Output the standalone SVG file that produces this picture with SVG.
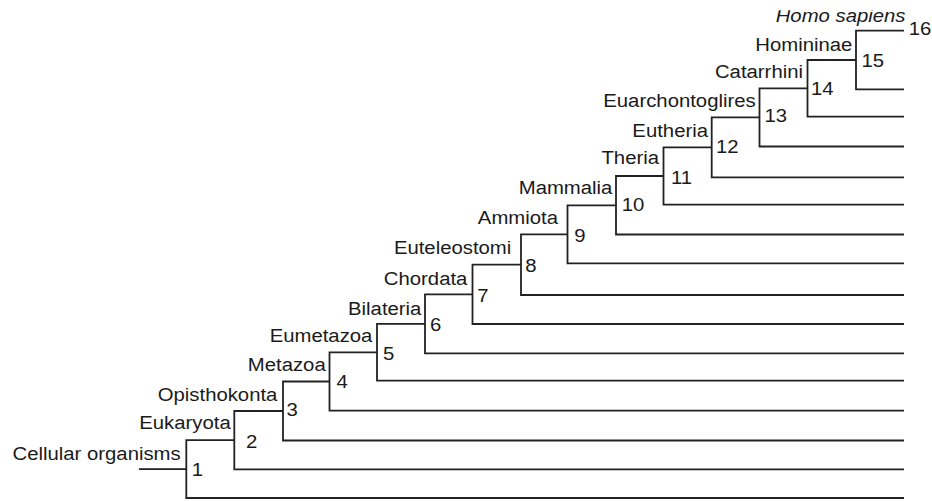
<svg xmlns="http://www.w3.org/2000/svg" width="932" height="501" viewBox="0 0 932 501">
<style>
.br{fill:none;stroke:#222;stroke-width:1.8;stroke-linejoin:miter}
text{font-family:"Liberation Sans",Arial,sans-serif;font-size:19px;fill:#1a1a1a}
.nm{text-anchor:end}
.it{font-style:italic}
</style>
<defs>
<clipPath id="topclip"><rect x="700" y="10.3" width="232" height="40"/></clipPath>
</defs>
<rect width="932" height="501" fill="#fff"/>
<g id="connectors">
<path class="br" d="M139,469.1 H186.3"/>
<path class="br" d="M234.3,440.2 H186.3 V498 H904"/>
<path class="br" d="M283,411 H234.3 V469.3 H904"/>
<path class="br" d="M329.5,381.5 H283 V440.5 H904"/>
<path class="br" d="M377,352.3 H329.5 V410.7 H904"/>
<path class="br" d="M425,323.8 H377 V380.7 H904"/>
<path class="br" d="M472.5,294.3 H425 V353.3 H904"/>
<path class="br" d="M521,264.7 H472.5 V324 H904"/>
<path class="br" d="M567.5,234.3 H521 V295 H904"/>
<path class="br" d="M616,205.3 H567.5 V263.3 H904"/>
<path class="br" d="M663.5,176 H616 V234.5 H904"/>
<path class="br" d="M711.7,147.4 H663.5 V204.7 H904"/>
<path class="br" d="M759.5,117.4 H711.7 V177.3 H904"/>
<path class="br" d="M807.5,88.4 H759.5 V146.5 H904"/>
<path class="br" d="M856,60 H807.5 V116.7 H904"/>
<path class="br" d="M904,30.7 H856 V89.3 H904"/>
</g>
<g id="n1"><text class="nm" transform="translate(180.7,460) scale(1.07 1)">Cellular organisms</text><text transform="translate(191.8,476) scale(1.07 1)">1</text></g>
<g id="n2"><text class="nm" transform="translate(230.7,429.3) scale(1.07 1)">Eukaryota</text><text transform="translate(246,447.7) scale(1.07 1)">2</text></g>
<g id="n3"><text class="nm" transform="translate(277.4,400.5) scale(1.07 1)">Opisthokonta</text><text transform="translate(286.4,416) scale(1.07 1)">3</text></g>
<g id="n4"><text class="nm" transform="translate(325.7,370.7) scale(1.07 1)">Metazoa</text><text transform="translate(336.5,387.7) scale(1.07 1)">4</text></g>
<g id="n5"><text class="nm" transform="translate(372.4,341.7) scale(1.07 1)">Eumetazoa</text><text transform="translate(383,360) scale(1.07 1)">5</text></g>
<g id="n6"><text class="nm" transform="translate(421.4,315) scale(1.07 1)">Bilateria</text><text transform="translate(430,330.7) scale(1.07 1)">6</text></g>
<g id="n7"><text class="nm" transform="translate(467.4,285) scale(1.07 1)">Chordata</text><text transform="translate(477.3,301.7) scale(1.07 1)">7</text></g>
<g id="n8"><text class="nm" transform="translate(511.3,254) scale(1.07 1)">Euteleostomi</text><text transform="translate(525.2,272.3) scale(1.07 1)">8</text></g>
<g id="n9"><text class="nm" transform="translate(558,224) scale(1.07 1)">Ammiota</text><text transform="translate(574.2,241.7) scale(1.07 1)">9</text></g>
<g id="n10"><text class="nm" transform="translate(612.4,194.3) scale(1.07 1)">Mammalia</text><text transform="translate(621.8,211) scale(1.07 1)">10</text></g>
<g id="n11"><text class="nm" transform="translate(659,164) scale(1.07 1)">Theria</text><text transform="translate(671,184) scale(1.07 1)">11</text></g>
<g id="n12"><text class="nm" transform="translate(708,136.7) scale(1.07 1)">Eutheria</text><text transform="translate(716,152.7) scale(1.07 1)">12</text></g>
<g id="n13"><text class="nm" transform="translate(755.7,107.3) scale(1.07 1)">Euarchontoglires</text><text transform="translate(764.5,121.7) scale(1.07 1)">13</text></g>
<g id="n14"><text class="nm" transform="translate(803,78.3) scale(1.07 1)">Catarrhini</text><text transform="translate(811,95) scale(1.07 1)">14</text></g>
<g id="n15"><text class="nm" transform="translate(852.4,51) scale(1.07 1)">Homininae</text><text transform="translate(861.5,66.7) scale(1.07 1)">15</text></g>
<g id="n16"><g clip-path="url(#topclip)"><text class="nm it" transform="translate(905.5,21.5) scale(1.07 1)">Homo sapiens</text></g><text transform="translate(908.8,35) scale(1.07 1)">16</text></g>
</svg>
